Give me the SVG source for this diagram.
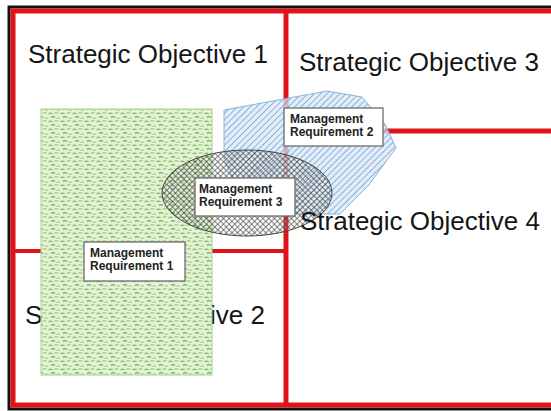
<svg xmlns="http://www.w3.org/2000/svg" width="551" height="411" viewBox="0 0 551 411">
  <style>
    .big { font-family: "Liberation Sans", Arial, sans-serif; font-size: 26px; fill: #151515; }
    .lbl { font-family: "Liberation Sans", Arial, sans-serif; font-size: 12px; font-weight: bold; fill: #222; }
    .box { fill: #ffffff; stroke: #6e6e6e; stroke-width: 1.3; }
    .red { stroke: #e2121a; fill: none; }
  </style>
  <defs>
    <pattern id="green" width="12" height="8" patternUnits="userSpaceOnUse">
      <rect width="12" height="8" fill="#e4f2d8"/>
      <path d="M0.5 2 q2 -1.6 4 0" stroke="#7dbb58" stroke-width="1.3" fill="none"/>
      <path d="M6.5 1.5 q2 -1.6 4 0" stroke="#9fcf7e" stroke-width="1.3" fill="none"/>
      <path d="M3 5.5 q2 -1.6 4 0" stroke="#6fae4c" stroke-width="1.3" fill="none"/>
      <path d="M8.5 6.5 q1.7 -1.4 3.4 0" stroke="#a8d38a" stroke-width="1.2" fill="none"/>
    </pattern>
    <pattern id="blue" width="4.5" height="4.5" patternUnits="userSpaceOnUse" patternTransform="rotate(45)">
      <rect width="4.5" height="4.5" fill="#d6e7f5" fill-opacity="0.75"/>
      <line x1="0" y1="0" x2="0" y2="4.5" stroke="#6396c6" stroke-width="1.3"/>
    </pattern>
    <pattern id="cross" width="4" height="4" patternUnits="userSpaceOnUse" patternTransform="rotate(45)">
      <rect width="4" height="4" fill="#e8e8e8" fill-opacity="0.2"/>
      <line x1="0" y1="0" x2="0" y2="4" stroke="#2e2e2e" stroke-width="1.1"/>
      <line x1="0" y1="0" x2="4" y2="0" stroke="#2e2e2e" stroke-width="1.1"/>
    </pattern>
  </defs>

  <rect width="551" height="411" fill="#ffffff"/>

  <g id="frame">
    <rect x="9" y="7" width="570" height="402" fill="none" stroke="#111" stroke-width="3"/>
    <rect x="13" y="11" width="570" height="394" class="red" stroke-width="5"/>
    <line x1="286" y1="11" x2="286" y2="405" class="red" stroke-width="5"/>
    <line x1="13" y1="251" x2="286" y2="251" class="red" stroke-width="4"/>
    <line x1="286" y1="131" x2="551" y2="131" class="red" stroke-width="5"/>
  </g>

  <g id="so1"><text class="big" x="28" y="63">Strategic Objective 1</text></g>
  <g id="so2"><text class="big" x="25" y="324">Strategic Objective 2</text></g>
  <g id="so3"><text class="big" x="299" y="71">Strategic Objective 3</text></g>

  <g id="mr1-area">
    <rect x="41" y="109" width="171" height="266" fill="url(#green)" stroke="#a6d38a" stroke-width="1"/>
  </g>
  <g id="mr2-area">
    <polygon points="224,110 327,91 362,97 385,124 396,148 368,186 340,214 250,214 224,160" fill="url(#blue)" stroke="#8ab4dc" stroke-width="1"/>
  </g>
  <g id="mr3-area">
    <ellipse cx="247" cy="193" rx="85" ry="43" fill="url(#cross)" stroke="#444" stroke-width="1"/>
  </g>

  <g id="so4"><text class="big" x="300" y="230">Strategic Objective 4</text></g>

  <g id="mr1">
    <rect class="box" x="84" y="242" width="101" height="39"/>
    <text class="lbl" x="90" y="257">Management</text>
    <text class="lbl" x="90" y="270">Requirement 1</text>
  </g>
  <g id="mr2">
    <rect class="box" x="284" y="108" width="99" height="38"/>
    <text class="lbl" x="290" y="123">Management</text>
    <text class="lbl" x="290" y="136">Requirement 2</text>
  </g>
  <g id="mr3">
    <rect class="box" x="195" y="178" width="100" height="38"/>
    <text class="lbl" x="199" y="193">Management</text>
    <text class="lbl" x="199" y="206">Requirement 3</text>
  </g>
</svg>
